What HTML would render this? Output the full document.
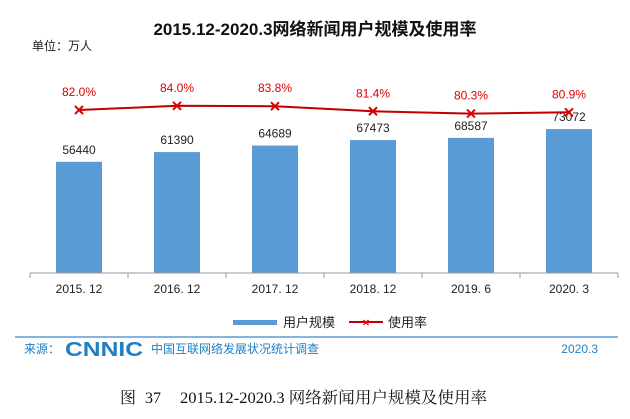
<!DOCTYPE html>
<html><head><meta charset="utf-8"><style>
body{margin:0;background:#fff;}
svg text{font-family:"Liberation Sans","Noto Sans CJK SC",sans-serif;}
</style></head><body>
<svg width="630" height="414" viewBox="0 0 630 414">
<text x="315" y="35" text-anchor="middle" font-size="17" font-weight="bold" fill="#111">2015.12-2020.3网络新闻用户规模及使用率</text>
<text x="32" y="50" font-size="12" fill="#222">单位：万人</text>
<g id="plot"></g>
<g>
<rect x="233" y="320" width="44" height="5" fill="#5b9bd5"/>
<text x="283" y="327" font-size="13" fill="#222">用户规模</text>
<line x1="349" y1="322" x2="383" y2="322" stroke="#c00000" stroke-width="2"/>
<text x="366" y="326.5" font-size="12" fill="#e00" text-anchor="middle" font-weight="bold">×</text>
<text x="388" y="327" font-size="13" fill="#222">使用率</text>
</g>
<line x1="15" y1="337" x2="618" y2="337" stroke="#5b9bd5" stroke-width="1.5"/>
<text x="24" y="353" font-size="12" fill="#1f7fc4">来源：</text>
<text x="65" y="356" font-size="20" font-weight="bold" fill="#1f7fc4" textLength="78" lengthAdjust="spacingAndGlyphs">CNNIC</text>
<text x="151" y="353" font-size="12" fill="#1f7fc4">中国互联网络发展状况统计调查</text>
<text x="598" y="353" font-size="12" fill="#1f7fc4" text-anchor="end">2020.3</text>
<g font-size="16" fill="#111">
<text x="120" y="403" style="font-family:'Liberation Serif','Noto Serif CJK SC',serif">图</text>
<text x="145" y="403" style="font-family:'Liberation Serif','Noto Serif CJK SC',serif">37</text>
<text x="180" y="403" textLength="307" lengthAdjust="spacingAndGlyphs" style="font-family:'Liberation Serif','Noto Serif CJK SC',serif">2015.12-2020.3 网络新闻用户规模及使用率</text>
</g>
</svg>
<script>
const categories=["2015. 12","2016. 12","2017. 12","2018. 12","2019. 6","2020. 3"];
const users=[56440,61390,64689,67473,68587,73072];
const rates=[82.0,84.0,83.8,81.4,80.3,80.9];
const NS="http://www.w3.org/2000/svg";
const g=document.getElementById('plot');
const x0=30,step=98,base=273;
const yBar=v=>base-v*0.00197;
const yRate=r=>110-(r-82)*2.1;
const cx=i=>x0+step*(i+0.5);
function mk(t,a){const e=document.createElementNS(NS,t);for(const k in a)e.setAttribute(k,a[k]);g.appendChild(e);return e;}
categories.forEach((c,i)=>{
 const b=mk('rect',{x:cx(i)-23,y:yBar(users[i]),width:46,height:base-yBar(users[i]),fill:'#5b9bd5'});
 
 
 const l=mk('text',{x:cx(i),y:yBar(users[i])-8,'text-anchor':'middle','font-size':12,fill:'#222'});l.textContent=users[i];
 
 
 const t=mk('text',{x:cx(i),y:base+20,'text-anchor':'middle','font-size':12,fill:'#222'});t.textContent=c;
 
 
});
const ax=mk('line',{x1:x0,y1:base,x2:x0+step*6,y2:base,stroke:'#999'});


for(let i=0;i<=6;i++){const tk=mk('line',{x1:x0+step*i,y1:base,x2:x0+step*i,y2:base+5,stroke:'#999'});
 
 }
const ln=mk('polyline',{points:rates.map((r,i)=>cx(i)+','+yRate(r)).join(' '),fill:'none',stroke:'#c00000','stroke-width':2});


rates.forEach((r,i)=>{
 const m=mk('path',{d:`M${cx(i)-4},${yRate(r)-4}L${cx(i)+4},${yRate(r)+4}M${cx(i)-4},${yRate(r)+4}L${cx(i)+4},${yRate(r)-4}`,stroke:'#e00000','stroke-width':2});
 
 
 const t=mk('text',{x:cx(i),y:yRate(r)-14,'text-anchor':'middle','font-size':12,fill:'#e00000'});t.textContent=r.toFixed(1)+'%';
 
 
});
</script>
</body></html>
